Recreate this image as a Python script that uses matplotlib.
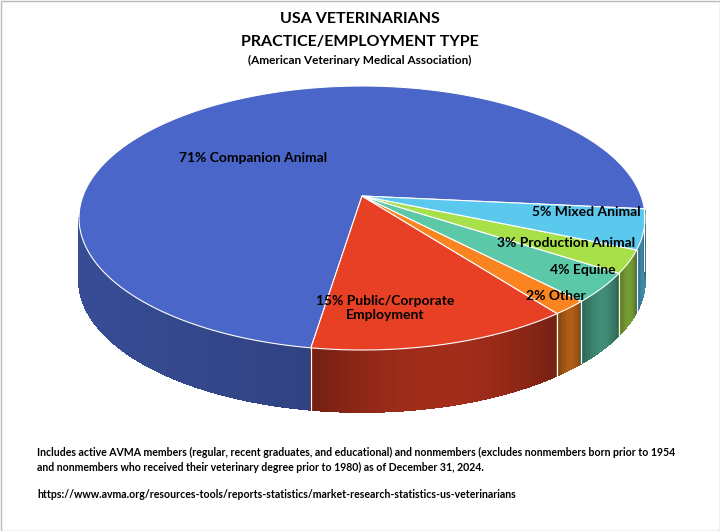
import numpy as np
import matplotlib.pyplot as plt
from matplotlib.patches import Polygon, Rectangle

labels = ["71% Companion Animal", "15% Public/Corporate\nEmployment", "2% Other",
          "4% Equine", "3% Production Animal", "5% Mixed Animal"]
shares = [71, 15, 2, 4, 3, 5]
colors = ["#4A66C8", "#E84025", "#F98420", "#5BC8A8", "#A8E04A", "#5BC8EE"]
label_pos = [(253, 158), (385, 308), (556, 296), (583, 270), (566, 243), (586, 212)]

plt.rcParams["font.family"] = "Lato"
fig = plt.figure(figsize=(7.2, 5.31), dpi=100)
ax = fig.add_axes([0, 0, 1, 1])
ax.set_xlim(0, 720)
ax.set_ylim(531, 0)
ax.axis("off")
ax.add_patch(Rectangle((0.5, 0.5), 719, 530, fill=False, ec="#BBBBBB", lw=1))

cx, cy, rx, ry, depth = 362, 218, 283, 132, 62


def pt(a):
    return cx + rx * np.cos(a), cy - ry * np.sin(a)


def shade(c, f):
    rgb = np.array(plt.matplotlib.colors.to_rgb(c))
    return tuple(np.clip(rgb * f, 0, 1))


start = 4
bounds = np.radians(np.concatenate([[start], start + np.cumsum(shares) * 3.6]))

# side walls (only front half visible)
for i, c in enumerate(colors):
    a0, a1 = bounds[i], bounds[i + 1]
    lo, hi = max(a0, np.pi), min(a1, 2 * np.pi + np.radians(start))
    if hi <= lo:
        continue
    steps = np.linspace(lo, hi, max(3, int((hi - lo) * 80)))
    for s0, s1 in zip(steps[:-1], steps[1:]):
        xm = np.cos((s0 + s1) / 2)
        f = 0.75 - 0.25 * (xm + 1) / 2 if i == 0 else 0.5 + 0.2 * np.sin(np.pi * (s0 - lo) / (hi - lo + 1e-9))
        p0, p1 = pt(s0), pt(s1)
        ax.add_patch(Polygon([p0, p1, (p1[0], p1[1] + depth), (p0[0], p0[1] + depth)],
                             closed=True, fc=shade(c, f), ec=shade(c, f), lw=0.6,
                             antialiased=False))
    for a in (lo, hi):
        if a in (a0, a1):
            p = pt(a)
            ax.plot([p[0], p[0]], [p[1], p[1] + depth], color="white", lw=0.8)

# top face
for i, c in enumerate(colors):
    t = np.linspace(bounds[i], bounds[i + 1], 200)
    xs, ys = pt(t)
    verts = [(cx, cy - 22)] + list(zip(xs, ys))
    ax.add_patch(Polygon(verts, closed=True, fc=c, ec="white", lw=0.8))

for lab, (x, y) in zip(labels, label_pos):
    ax.text(x, y, lab, ha="center", va="center", fontsize=10, fontweight="bold")

ax.text(360, 19, "USA VETERINARIANS", ha="center", va="center", fontsize=11.5, fontweight="bold")
ax.text(360, 42, "PRACTICE/EMPLOYMENT TYPE", ha="center", va="center", fontsize=11.5, fontweight="bold")
ax.text(360, 60, "(American Veterinary Medical Association)", ha="center", va="center", fontsize=8.5, fontweight="bold")

ax.text(37, 452, "Includes active AVMA members (regular, recent graduates, and educational) and nonmembers (excludes nonmembers born prior to 1954",
        fontsize=7.6, fontweight="bold", va="center")
ax.text(37, 467, "and nonmembers who received their veterinary degree prior to 1980) as of December 31, 2024.",
        fontsize=7.6, fontweight="bold", va="center")
ax.text(37, 494, "https://www.avma.org/resources-tools/reports-statistics/market-research-statistics-us-veterinarians",
        fontsize=7.6, fontweight="bold", va="center")

fig.savefig("out.png", dpi=100)
